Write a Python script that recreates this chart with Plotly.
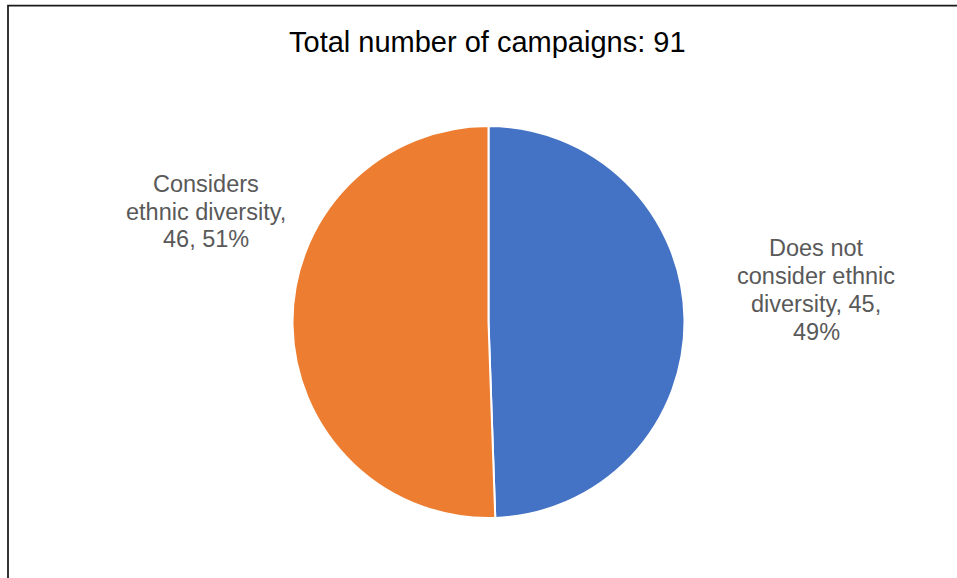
import plotly.graph_objects as go

# Campaign counts by whether ethnic diversity is considered
categories = ["Does not consider ethnic diversity", "Considers ethnic diversity"]
counts = [45, 46]
colors = ["#4472C4", "#ED7D31"]
label_lines = [
    ["Does not", "consider ethnic", "diversity, {n},", "{p}%"],
    ["Considers", "ethnic diversity,", "{n}, {p}%"],
]

W, H = 957, 578
total = sum(counts)
FONT = "Liberation Sans, Arial, sans-serif"


def px(x):
    return x / W


def py(y):
    return 1 - y / H


fig = go.Figure(
    go.Pie(
        labels=categories,
        values=counts,
        sort=False,
        direction="clockwise",
        rotation=0,
        marker=dict(colors=colors, line=dict(color="white", width=2)),
        textinfo="none",
        hoverinfo="label+value+percent",
        showlegend=False,
        domain=dict(x=[px(292), px(685)], y=[py(518), py(126)]),
    )
)

# Outside labels built from the counts, one annotation per text line
label_pos = [(816, 248), (206, 183.5)]  # centre x, first-line centre y
line_gap = 28
annotations = []
for lines, n, (lx, ly) in zip(label_lines, counts, label_pos):
    pct = round(100 * n / total)
    for i, l in enumerate(lines):
        annotations.append(
            dict(
                x=px(lx), y=py(ly + i * line_gap), xref="paper", yref="paper",
                text=l.format(n=n, p=pct), showarrow=False, align="center",
                xanchor="center", yanchor="middle",
                font=dict(family=FONT, size=23.5, color="#595959"),
            )
        )

annotations.append(
    dict(
        x=px(487.5), y=py(42.5), xref="paper", yref="paper",
        text=f"Total number of campaigns: {total}", showarrow=False,
        xanchor="center", yanchor="middle",
        font=dict(family=FONT, size=29, color="#000000"),
    )
)

fig.update_layout(
    width=W, height=H,
    margin=dict(l=0, r=0, t=0, b=0),
    paper_bgcolor="white",
    plot_bgcolor="white",
    annotations=annotations,
    shapes=[
        dict(
            type="rect", xref="paper", yref="paper",
            x0=px(8), x1=px(W + 10), y0=py(H + 10), y1=py(5.5),
            line=dict(color="#1a1a1a", width=1.75), fillcolor="rgba(0,0,0,0)",
        )
    ],
)

fig.write_html("out.html")
